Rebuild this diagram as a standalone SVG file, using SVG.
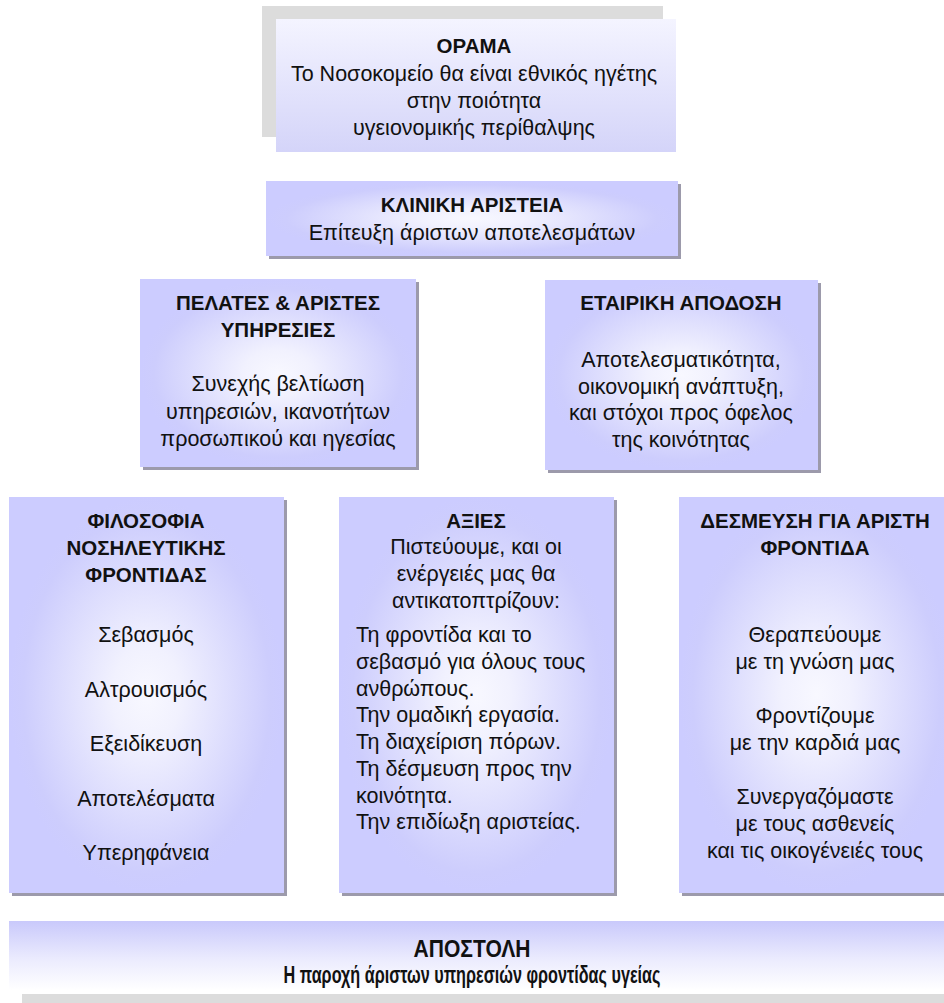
<svg xmlns="http://www.w3.org/2000/svg" width="944" height="1003" viewBox="0 0 944 1003">
  <style>
    text { font-family: "Liberation Sans", Arial, sans-serif; fill: #111; }
    .h { font-size: 20.5px; font-weight: bold; text-anchor: middle; }
    .t { font-size: 21.5px; text-anchor: middle; }
    .l { font-size: 21.5px; text-anchor: start; }
    .m { font-size: 23px; font-weight: bold; text-anchor: middle; }
    .shadow { fill: #9c9aab; }
    .box { fill: url(#boxFill); }
  </style>
  <defs>
    <!-- soft centre-lit lavender used by the pillar boxes -->
    <radialGradient id="boxFill" cx="0.5" cy="0.5" r="0.5" gradientUnits="objectBoundingBox">
      <stop offset="0" stop-color="#f8f8ff"/>
      <stop offset="0.25" stop-color="#f1f1fe"/>
      <stop offset="0.9" stop-color="#cdcdfd"/>
      <stop offset="1" stop-color="#ccccff"/>
    </radialGradient>
    <linearGradient id="visionFill" x1="0" y1="0" x2="0" y2="1">
      <stop offset="0" stop-color="#f4f4ff"/>
      <stop offset="1" stop-color="#d4d4f9"/>
    </linearGradient>
    <linearGradient id="missionFill" x1="0" y1="0" x2="0" y2="1">
      <stop offset="0" stop-color="#c9c9fb"/>
      <stop offset="0.55" stop-color="#ebebfe"/>
      <stop offset="1" stop-color="#ffffff"/>
    </linearGradient>
  </defs>

  <rect width="944" height="1003" fill="#ffffff"/>

  <!-- vision -->
  <g id="vision">
    <rect x="262" y="6" width="401" height="131" fill="#dcdcdc"/>
    <rect x="276" y="19" width="400" height="133" fill="url(#visionFill)"/>
    <text class="h" x="474" y="53">ΟΡΑΜΑ</text>
    <text class="t" x="474" y="81">Το Νοσοκομείο θα είναι εθνικός ηγέτης</text>
    <text class="t" x="474" y="108">στην ποιότητα</text>
    <text class="t" x="474" y="135">υγειονομικής περίθαλψης</text>
  </g>

  <!-- clinical excellence -->
  <g id="clinical">
    <rect class="shadow" x="269" y="184" width="412" height="75"/>
    <rect class="box" x="266" y="181" width="412" height="75"/>
    <text class="h" x="472" y="212">ΚΛΙΝΙΚΗ ΑΡΙΣΤΕΙΑ</text>
    <text class="t" x="472" y="240">Επίτευξη άριστων αποτελεσμάτων</text>
  </g>

  <!-- customers and services -->
  <g id="customers">
    <rect class="shadow" x="143" y="282" width="276" height="188"/>
    <rect class="box" x="140" y="279" width="276" height="188"/>
    <text class="h" x="278" y="310">ΠΕΛΑΤΕΣ &amp; ΑΡΙΣΤΕΣ</text>
    <text class="h" x="278" y="337">ΥΠΗΡΕΣΙΕΣ</text>
    <text class="t" x="278" y="391">Συνεχής βελτίωση</text>
    <text class="t" x="278" y="419">υπηρεσιών, ικανοτήτων</text>
    <text class="t" x="278" y="446">προσωπικού και ηγεσίας</text>
  </g>

  <!-- corporate performance -->
  <g id="corporate">
    <rect class="shadow" x="548" y="283" width="273" height="190"/>
    <rect class="box" x="545" y="280" width="273" height="190"/>
    <text class="h" x="681" y="310">ΕΤΑΙΡΙΚΗ ΑΠΟΔΟΣΗ</text>
    <text class="t" x="681" y="367">Αποτελεσματικότητα,</text>
    <text class="t" x="681" y="394">οικονομική ανάπτυξη,</text>
    <text class="t" x="681" y="420">και στόχοι προς όφελος</text>
    <text class="t" x="681" y="447">της κοινότητας</text>
  </g>

  <!-- nursing philosophy -->
  <g id="philosophy">
    <rect class="shadow" x="12" y="500" width="275" height="396"/>
    <rect class="box" x="9" y="497" width="275" height="396"/>
    <text class="h" x="146" y="528">ΦΙΛΟΣΟΦΙΑ</text>
    <text class="h" x="146" y="555">ΝΟΣΗΛΕΥΤΙΚΗΣ</text>
    <text class="h" x="146" y="582">ΦΡΟΝΤΙΔΑΣ</text>
    <text class="t" x="146" y="642">Σεβασμός</text>
    <text class="t" x="146" y="697">Αλτρουισμός</text>
    <text class="t" x="146" y="751">Εξειδίκευση</text>
    <text class="t" x="146" y="806">Αποτελέσματα</text>
    <text class="t" x="146" y="860">Υπερηφάνεια</text>
  </g>

  <!-- values -->
  <g id="values">
    <rect class="shadow" x="342" y="500" width="275" height="396"/>
    <rect class="box" x="339" y="497" width="275" height="396"/>
    <text class="h" x="476" y="528">ΑΞΙΕΣ</text>
    <text class="t" x="476" y="554">Πιστεύουμε, και οι</text>
    <text class="t" x="476" y="581">ενέργειές μας θα</text>
    <text class="t" x="476" y="608">αντικατοπτρίζουν:</text>
    <text class="l" x="356" y="642">Τη φροντίδα και το</text>
    <text class="l" x="356" y="669">σεβασμό για όλους τους</text>
    <text class="l" x="356" y="696">ανθρώπους.</text>
    <text class="l" x="356" y="722">Την ομαδική εργασία.</text>
    <text class="l" x="356" y="749">Τη διαχείριση πόρων.</text>
    <text class="l" x="356" y="776">Τη δέσμευση προς την</text>
    <text class="l" x="356" y="803">κοινότητα.</text>
    <text class="l" x="356" y="829">Την επιδίωξη αριστείας.</text>
  </g>

  <!-- commitment to care -->
  <g id="commitment">
    <rect class="shadow" x="682" y="500" width="275" height="396"/>
    <rect class="box" x="679" y="497" width="275" height="396"/>
    <text class="h" x="815" y="528">ΔΕΣΜΕΥΣΗ ΓΙΑ ΑΡΙΣΤΗ</text>
    <text class="h" x="815" y="555">ΦΡΟΝΤΙΔΑ</text>
    <text class="t" x="815" y="642">Θεραπεύουμε</text>
    <text class="t" x="815" y="669">με τη γνώση μας</text>
    <text class="t" x="815" y="723">Φροντίζουμε</text>
    <text class="t" x="815" y="750">με την καρδιά μας</text>
    <text class="t" x="815" y="804">Συνεργαζόμαστε</text>
    <text class="t" x="815" y="831">με τους ασθενείς</text>
    <text class="t" x="815" y="858">και τις οικογένειές τους</text>
  </g>

  <!-- mission -->
  <g id="mission">
    <rect x="22" y="994" width="930" height="12" fill="#dcdcdc"/>
    <rect x="9" y="921" width="940" height="69" fill="url(#missionFill)"/>
    <text class="m" x="472" y="957" textLength="117" lengthAdjust="spacingAndGlyphs">ΑΠΟΣΤΟΛΗ</text>
    <text class="m" x="472" y="983" textLength="377" lengthAdjust="spacingAndGlyphs">Η παροχή άριστων υπηρεσιών φροντίδας υγείας</text>
  </g>

  <g id="connectors"/>
</svg>
